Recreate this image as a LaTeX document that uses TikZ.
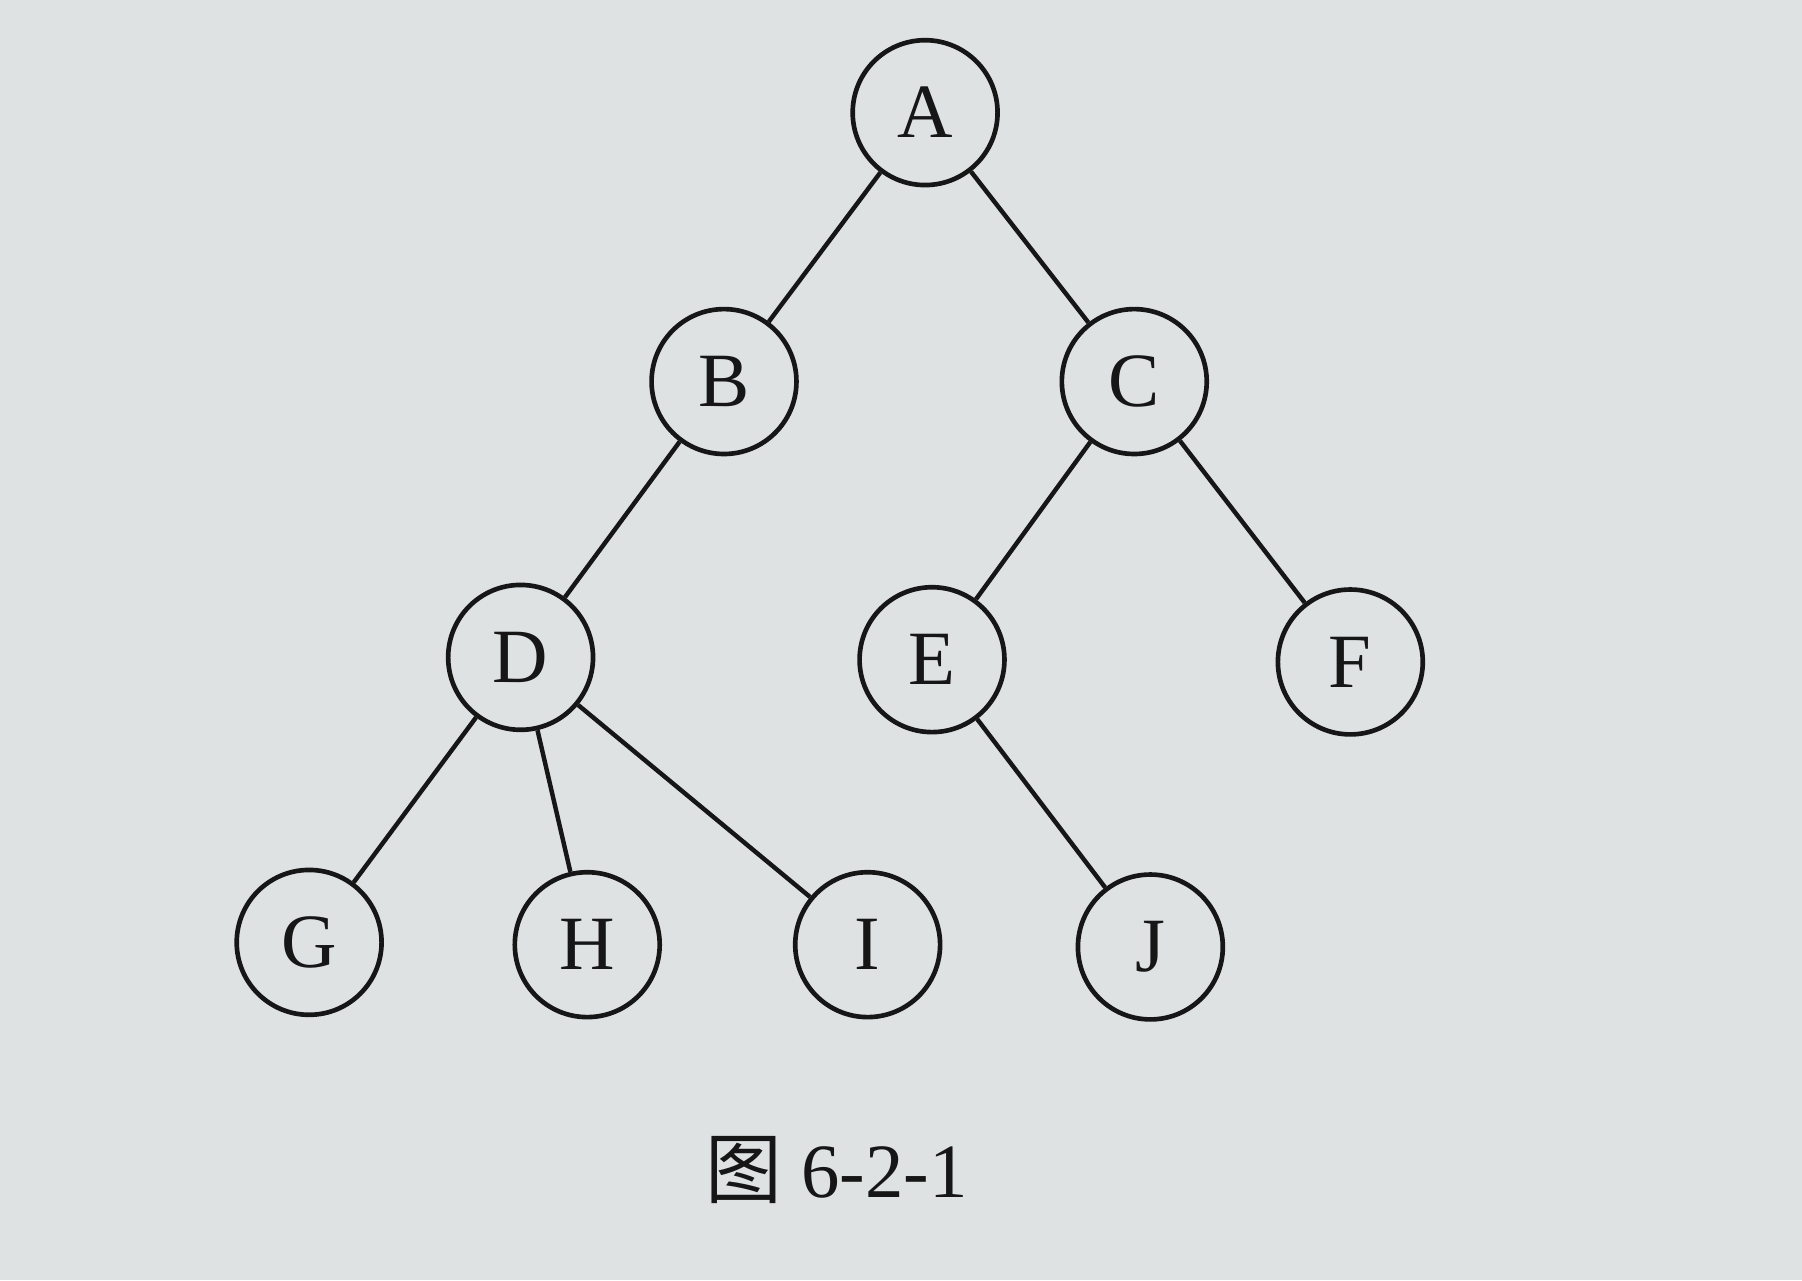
\documentclass[tikz,border=0pt]{standalone}
\usepackage{fontspec}
\setmainfont{Liberation Serif}
\newfontfamily\cjk{Noto Sans CJK SC}
\usetikzlibrary{positioning}
\definecolor{paper}{RGB}{222,226,227}
\definecolor{ink}{RGB}{22,22,22}
\tikzset{
  vertex/.style={circle, draw=ink, line width=1.15pt, minimum size=1.26cm, inner sep=0pt,
    font=\fontsize{19}{22}\selectfont, text=ink},
  edge/.style={draw=ink, line width=1.1pt}
}
\begin{document}
\begin{tikzpicture}[x=0.01cm, y=-0.01cm]
\fill[paper] (0,0) rectangle (1568,1114);
\useasboundingbox (0,0) rectangle (1568,1114);
%
\node[vertex](a) at (805,98) {A};
\node[vertex](b) at (630,332) {B};
\node[vertex](c) at (987,332) {C};
\node[vertex](d) at (453,572) {D};
\node[vertex](e) at (811,574) {E};
\node[vertex](f) at (1175,576) {F};
\node[vertex](g) at (269,820) {G};
\node[vertex](h) at (511,822) {H};
\node[vertex](i) at (755,822) {I};
\node[vertex](j) at (1001,824) {J};
%
\draw[edge](a) -- (b);
\draw[edge](a) -- (c);
\draw[edge](b) -- (d);
\draw[edge](c) -- (e);
\draw[edge](c) -- (f);
\draw[edge](d) -- (g);
\draw[edge](d) -- (h);
\draw[edge](d) -- (i);
\draw[edge](e) -- (j);
%
\node[text=ink, font=\fontsize{19}{22}\selectfont](caption) at (728,1018) {{\cjk 图} 6-2-1};
\end{tikzpicture}
\end{document}
